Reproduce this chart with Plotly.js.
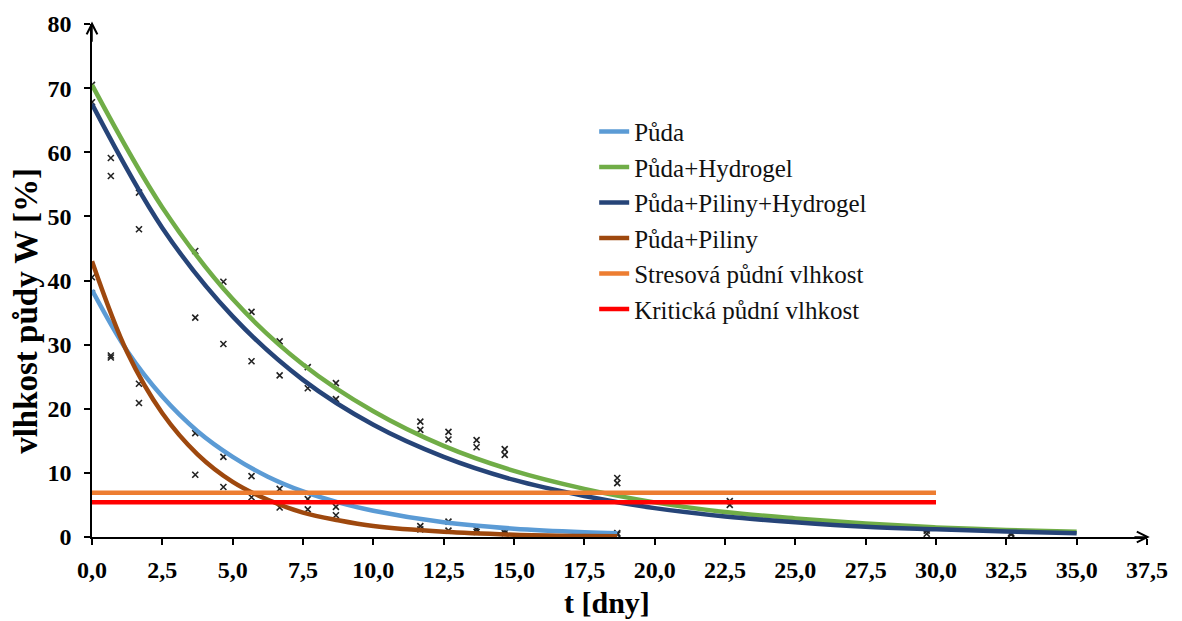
<!DOCTYPE html>
<html>
<head>
<meta charset="utf-8">
<script src="https://cdn.plot.ly/plotly-3.0.1.min.js"></script>
<style>html,body{margin:0;padding:0;background:#fff;}#chart{width:1182px;height:621px;}</style>
</head>
<body>
<div id="chart"></div>
<script>
// Trend-line sample days and values
const trendT = [0, 2.5, 5, 7.5, 10, 12.5, 15, 17.5, 20, 22.5, 25, 27.5, 30, 32.5, 35];
const trendShortT = [0, 1.25, 2.5, 3.75, 5, 6.25, 7.5, 8.75, 10, 12.5, 15, 17.5, 18.67];
const trendPuda = [38.5, 29.0, 21.9, 16.5, 12.5, 9.4, 7.1, 5.4, 4.1, 2.3, 1.3, 0.75, 0.6];
const trendPiliny = [43.0, 28.8, 19.3, 12.9, 8.6, 5.8, 3.8, 2.6, 1.7, 0.8, 0.35, 0.15, 0.1];
const trendHydrogel = [70.5, 51.4, 37.1, 26.9, 19.6, 14.2, 10.3, 7.5, 5.4, 3.9, 2.9, 2.1, 1.5, 1.1, 0.8];
const trendPilinyHydrogel = [67.5, 48.2, 34.4, 24.5, 17.5, 12.5, 8.9, 6.4, 4.5, 3.2, 2.3, 1.6, 1.2, 0.85, 0.6];

// Measured points
const measT = [0, 0.67, 1.67, 3.67, 4.67, 5.67, 6.67, 7.67, 8.67, 11.67, 12.67, 13.67, 14.67, 18.67];
const measPuda = [38.0, 28.3, 23.9, 16.2, 12.5, 9.5, 7.5, 5.9, 4.7, 1.7, 2.4, 1.2, 1.0, 0.6];
const measPiliny = [40.5, 28.0, 20.9, 9.7, 7.8, 6.2, 4.6, 4.3, 3.4, 1.2, 1.0, 0.8, 0.6, 0.4];
const measLongT = [0, 0.67, 1.67, 3.67, 4.67, 5.67, 6.67, 7.67, 8.67, 11.67, 12.67, 13.67, 14.67, 18.67, 22.67, 29.67, 32.67];
const measHydrogel = [70.5, 59.1, 53.7, 44.6, 39.8, 35.1, 30.5, 26.5, 24.0, 18.0, 16.4, 15.1, 13.7, 9.2, 5.6, 1.0, 0.6];
const measPilinyHydrogel = [67.8, 56.3, 48.0, 34.2, 30.1, 27.4, 25.2, 23.2, 21.5, 16.7, 15.2, 14.0, 12.8, 8.4, 5.0, 0.5, 0.4];

// Thresholds
const limitT = [0, 30];
const stresova = [6.9, 6.9];
const kriticka = [5.4, 5.4];

const seriesNames = ["Půda", "Půda+Hydrogel", "Půda+Piliny+Hydrogel", "Půda+Piliny", "Stresová půdní vlhkost", "Kritická půdní vlhkost"];
const seriesColors = ["#5b9bd5", "#70ad47", "#264478", "#9e480e", "#ed7d31", "#ff0000"];

const xTicks = [0, 2.5, 5, 7.5, 10, 12.5, 15, 17.5, 20, 22.5, 25, 27.5, 30, 32.5, 35, 37.5];
const yTicks = [0, 10, 20, 30, 40, 50, 60, 70, 80];
const xTitle = "t [dny]";
const yTitle = "vlhkost půdy W [%]";

const serif = "Liberation Serif, Times New Roman, serif";

function curve(x, y, i) {
  return {x: x, y: y, type: "scatter", mode: "lines", name: seriesNames[i],
    legendgroup: "g" + i,
    line: {color: seriesColors[i], width: 4.5, shape: "spline", smoothing: 1}};
}
function pts(x, y) {
  return {x: x, y: y, type: "scatter", mode: "markers", showlegend: false, hoverinfo: "skip",
    marker: {symbol: "x-thin-open", size: 6, color: "#222", line: {width: 1.6, color: "#222"}}};
}

const traces = [
  pts(measT, measPuda), pts(measT, measPiliny), pts(measLongT, measHydrogel), pts(measLongT, measPilinyHydrogel),
  curve(trendShortT, trendPuda, 0),
  curve(trendT, trendHydrogel, 1),
  curve(trendT, trendPilinyHydrogel, 2),
  curve(trendShortT, trendPiliny, 3),
  {x: limitT, y: stresova, type: "scatter", mode: "lines", name: seriesNames[4], legendgroup: "g4",
    line: {color: seriesColors[4], width: 4.5}},
  {x: limitT, y: kriticka, type: "scatter", mode: "lines", name: seriesNames[5], legendgroup: "g5",
    line: {color: seriesColors[5], width: 4.5}}
];

const layout = {
  width: 1182, height: 621,
  margin: {l: 92, r: 35, t: 24, b: 84},
  paper_bgcolor: "#fff", plot_bgcolor: "#fff",
  separators: ", ",
  showlegend: true,
  legend: {x: 0.476, y: 0.835, xanchor: "left", yanchor: "top",
    font: {family: serif, size: 25, color: "#111"},
    traceorder: "grouped", tracegroupgap: 0, itemwidth: 30,
    bgcolor: "rgba(255,255,255,0)"},
  xaxis: {range: [0, 37.5], tickvals: xTicks, tickformat: ".1f",
    showgrid: false, zeroline: false, showline: true, linecolor: "#000", linewidth: 1.5,
    ticks: "outside", ticklen: 6, tickwidth: 1.5, tickcolor: "#000", ticklabelstandoff: 4,
    tickfont: {family: serif, size: 24, color: "#000", weight: "bold"}},
  yaxis: {range: [0, 80], tickvals: yTicks,
    showgrid: false, zeroline: false, showline: true, linecolor: "#000", linewidth: 1.5,
    ticks: "outside", ticklen: 6, tickwidth: 1.5, tickcolor: "#000", ticklabelstandoff: 8,
    tickfont: {family: serif, size: 24, color: "#000", weight: "bold"}},
  annotations: [
    {x: 0, y: 80.4, xref: "x", yref: "y", ax: 0, ay: 77, axref: "x", ayref: "y",
     showarrow: true, arrowhead: 5, arrowsize: 1.4, arrowwidth: 1.5, arrowcolor: "#000", text: ""},
    {x: 37.6, y: 0, xref: "x", yref: "y", ax: 37, ay: 0, axref: "x", ayref: "y",
     showarrow: true, arrowhead: 5, arrowsize: 1.4, arrowwidth: 1.5, arrowcolor: "#000", text: ""},
    {x: 18.3, y: -0.128, xref: "x", yref: "paper", showarrow: false, text: "<b>" + xTitle + "</b>",
     font: {family: serif, size: 30, color: "#000"}, xanchor: "center", yanchor: "middle"},
    {x: -0.062, y: 35.2, xref: "paper", yref: "y", showarrow: false, text: "<b>" + yTitle + "</b>",
     textangle: -90, font: {family: serif, size: 33, color: "#000"}, xanchor: "center", yanchor: "middle"}
  ]
};

Plotly.newPlot("chart", traces, layout, {displayModeBar: false, responsive: false});
</script>
</body>
</html>
